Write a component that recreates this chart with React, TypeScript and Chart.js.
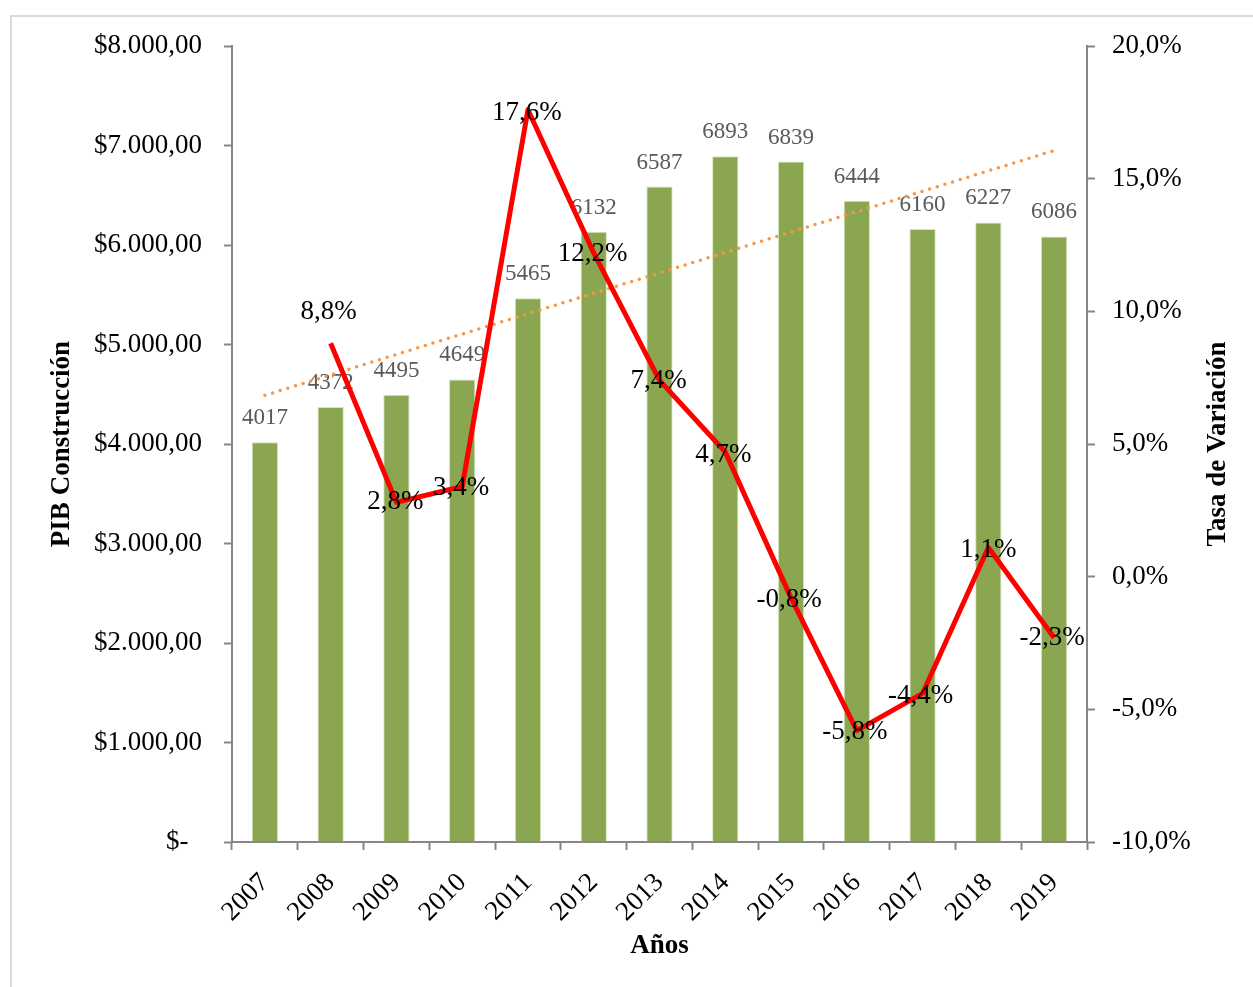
import React, { useEffect, useRef } from "react";
import { Chart, registerables } from "chart.js";

Chart.register(...registerables);

const years = ["2007", "2008", "2009", "2010", "2011", "2012", "2013", "2014", "2015", "2016", "2017", "2018", "2019"];
const pibConstruccion = [4017, 4372, 4495, 4649, 5465, 6132, 6587, 6893, 6839, 6444, 6160, 6227, 6086];
const tasaVariacion: (number | null)[] = [null, 8.8, 2.8, 3.4, 17.6, 12.2, 7.4, 4.7, -0.8, -5.8, -4.4, 1.1, -2.3];
// trend line end values (first and last year)
const tendencia: (number | null)[] = [4490, null, null, null, null, null, null, null, null, null, null, null, 6950];
const leftTicks = [0, 1000, 2000, 3000, 4000, 5000, 6000, 7000, 8000];
const rightTicks = [-10, -5, 0, 5, 10, 15, 20];

const SERIF = "'Liberation Serif', 'Times New Roman', serif";
const AXIS_GRAY = "#868686";

// label offsets (pixels) for the rate labels, relative to each point
const rateLabelOffsets: [number, number][] = [
  [0, 0], [-2, -31], [-1, 0], [-1, 1], [-1, 3], [-1, 1], [-1, 1], [-2, 3], [-2, 2], [-2, 1], [-2, 2], [0, 2], [-2, 0],
];

function fmtMoney(v: number): string {
  if (v === 0) return "$-  ";
  const intPart = Math.round(v).toString().replace(/\B(?=(\d{3})+(?!\d))/g, ".");
  return "$" + intPart + ",00";
}
function fmtPct(v: number): string {
  return v.toFixed(1).replace(".", ",") + "%";
}

const labelsPlugin = {
  id: "customLabels",
  beforeDraw(chart: any) {
    const ctx = chart.ctx;
    ctx.save();
    ctx.strokeStyle = "#d9d9d9";
    ctx.lineWidth = 2;
    ctx.beginPath();
    ctx.moveTo(11, 987);
    ctx.lineTo(11, 16);
    ctx.lineTo(1253, 16);
    ctx.stroke();
    ctx.restore();
  },
  afterDatasetDraw(chart: any, args: any) {
    if (args.index !== 0) return;
    const ctx = chart.ctx;
    const meta = chart.getDatasetMeta(0);
    ctx.save();
    ctx.font = `23px ${SERIF}`;
    ctx.fillStyle = "#595959";
    ctx.textAlign = "center";
    ctx.textBaseline = "middle";
    meta.data.forEach((bar: any, i: number) => {
      ctx.fillText(String(pibConstruccion[i]), bar.x, bar.y - 24);
    });
    ctx.restore();
  },
  afterDatasetsDraw(chart: any) {
    const ctx = chart.ctx;
    const meta = chart.getDatasetMeta(1);
    ctx.save();
    ctx.font = `27px ${SERIF}`;
    ctx.fillStyle = "#000000";
    ctx.textAlign = "center";
    ctx.textBaseline = "middle";
    meta.data.forEach((pt: any, i: number) => {
      const v = tasaVariacion[i];
      if (v === null || v === undefined) return;
      const [dx, dy] = rateLabelOffsets[i];
      ctx.fillText(fmtPct(v), pt.x + dx, pt.y + dy);
    });
    // axis titles
    const ca = chart.chartArea;
    ctx.font = `bold 27px ${SERIF}`;
    ctx.fillStyle = "#000000";
    ctx.save();
    ctx.translate(62, (ca.top + ca.bottom) / 2);
    ctx.rotate(-Math.PI / 2);
    ctx.fillText("PIB Construcción", 0, 0);
    ctx.restore();
    ctx.save();
    ctx.translate(1218, (ca.top + ca.bottom) / 2);
    ctx.rotate(-Math.PI / 2);
    ctx.fillText("Tasa de Variación", 0, 0);
    ctx.restore();
    ctx.fillText("Años", (ca.left + ca.right) / 2, 946);
    ctx.restore();
  },
};

export default function App() {
  const canvasRef = useRef<HTMLCanvasElement | null>(null);

  useEffect(() => {
    if (!canvasRef.current) return;
    const chart = new Chart(canvasRef.current, {
      type: "bar",
      data: {
        labels: years,
        datasets: [
          {
            type: "bar",
            label: "PIB Construcción",
            data: pibConstruccion,
            yAxisID: "y",
            backgroundColor: "#8AA650",
            borderColor: "#d8e4bc",
            borderWidth: 1,
            barPercentage: 0.4,
            categoryPercentage: 1,
            order: 3,
          },
          {
            type: "line",
            label: "Tasa de Variación",
            data: tasaVariacion,
            yAxisID: "y1",
            borderColor: "#FF0000",
            borderWidth: 5,
            pointRadius: 0,
            borderJoinStyle: "round",
            tension: 0,
            order: 1,
          } as any,
          {
            type: "line",
            label: "Tendencia",
            data: tendencia,
            yAxisID: "y",
            borderColor: "#F79646",
            borderWidth: 3.5,
            borderDash: [0, 8],
            borderCapStyle: "round",
            pointRadius: 0,
            spanGaps: true,
            order: 2,
          } as any,
        ],
      },
      options: {
        responsive: false,
        animation: false,
        layout: { padding: { top: 46, left: 0, right: 0, bottom: 0 } },
        plugins: {
          legend: { display: false },
          tooltip: { enabled: false },
        },
        scales: {
          x: {
            offset: true,
            grid: {
              display: true,
              drawOnChartArea: false,
              offset: true,
              tickLength: 8,
              tickColor: AXIS_GRAY,
              tickWidth: 2,
            },
            border: { color: AXIS_GRAY, width: 2 },
            ticks: {
              color: "#000000",
              font: { family: SERIF, size: 27 },
              minRotation: 45,
              maxRotation: 45,
              autoSkip: false,
              padding: 17,
            },
            afterFit(scale: any) {
              scale.height = 145;
            },
          },
          y: {
            position: "left",
            min: 0,
            max: 8000,
            afterBuildTicks(scale: any) {
              scale.ticks = leftTicks.map((v) => ({ value: v }));
            },
            grid: {
              display: true,
              drawOnChartArea: false,
              tickLength: 8,
              tickColor: AXIS_GRAY,
              tickWidth: 2,
            },
            border: { color: AXIS_GRAY, width: 2 },
            ticks: {
              color: "#000000",
              font: { family: SERIF, size: 27 },
              padding: 22,
              callback: (v: any) => fmtMoney(Number(v)),
            },
            afterFit(scale: any) {
              scale.width = 232;
            },
          },
          y1: {
            position: "right",
            min: -10,
            max: 20,
            afterBuildTicks(scale: any) {
              scale.ticks = rightTicks.map((v) => ({ value: v }));
            },
            grid: {
              display: true,
              drawOnChartArea: false,
              tickLength: 8,
              tickColor: AXIS_GRAY,
              tickWidth: 2,
            },
            border: { color: AXIS_GRAY, width: 2 },
            ticks: {
              color: "#000000",
              font: { family: SERIF, size: 27 },
              padding: 17,
              callback: (v: any) => fmtPct(Number(v)),
            },
            afterFit(scale: any) {
              scale.width = 166;
            },
          },
        },
      },
      plugins: [labelsPlugin],
    });
    return () => chart.destroy();
  }, []);

  return (
    <div style={{ position: "absolute", left: 0, top: 0, width: 1253, height: 987, background: "#ffffff" }}>
      <canvas ref={canvasRef} width={1253} height={987} style={{ display: "block" }} />
    </div>
  );
}
